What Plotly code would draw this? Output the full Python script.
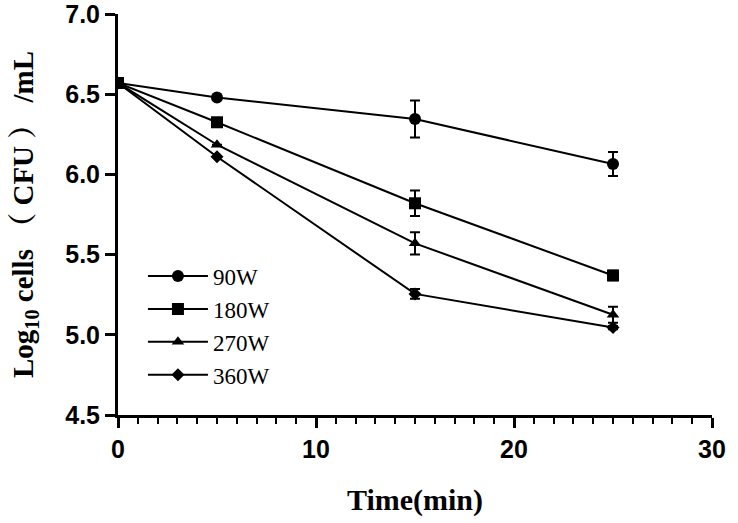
import plotly.graph_objects as go

time = [0, 5, 15, 25]
series_names = ["90W", "180W", "270W", "360W"]
values = {
    "90W":  [6.57, 6.48, 6.345, 6.065],
    "180W": [6.57, 6.325, 5.82, 5.37],
    "270W": [6.57, 6.185, 5.57, 5.125],
    "360W": [6.57, 6.11, 5.255, 5.045],
}
errors = {
    "90W":  [0, 0, 0.115, 0.075],
    "180W": [0, 0, 0.08, 0.03],
    "270W": [0, 0, 0.07, 0.05],
    "360W": [0, 0, 0.03, 0.01],
}
symbols = {"90W": "circle", "180W": "square", "270W": "triangle-up", "360W": "diamond"}
sizes = {"90W": 12, "180W": 12, "270W": 11, "360W": 10}

fig = go.Figure()
for name in series_names:
    fig.add_trace(go.Scatter(
        x=time, y=values[name], name=name, mode="lines+markers",
        line=dict(color="black", width=2),
        marker=dict(symbol=symbols[name], size=sizes[name], color="black"),
        error_y=dict(type="data", array=errors[name], visible=True,
                     color="black", thickness=2, width=5),
    ))

serif = "Liberation Serif, Times New Roman, Noto Serif CJK SC, Noto Sans CJK SC, serif"
sans = "Liberation Sans, Arial, sans-serif"

fig.update_layout(
    width=738, height=523,
    margin=dict(l=118, r=26, t=14, b=108, autoexpand=False),
    paper_bgcolor="white", plot_bgcolor="white",
    showlegend=True,
    legend=dict(x=0.042, y=0.40, xanchor="left", yanchor="top",
                font=dict(family=serif, size=23, color="black"),
                bgcolor="rgba(0,0,0,0)", itemwidth=60, tracegroupgap=0),
    xaxis=dict(
        range=[0, 30], tickvals=[0, 10, 20, 30], automargin=False,
        ticklabeloverflow="allow",
        showline=True, linecolor="black", linewidth=3,
        ticks="outside", ticklen=10, tickwidth=3, tickcolor="black",
        minor=dict(dtick=1, ticks="outside", ticklen=6, tickwidth=2, tickcolor="black"),
        showgrid=False, zeroline=False,
        tickfont=dict(family=sans, size=25, color="black", weight="bold"),
        title=dict(text="<b>Time(min)</b>", font=dict(family=serif, size=30, color="black"), standoff=27),
    ),
    yaxis=dict(
        range=[4.5, 7.0], tickvals=[4.5, 5.0, 5.5, 6.0, 6.5, 7.0], automargin=False,
        ticktext=["4.5", "5.0", "5.5", "6.0", "6.5", "7.0"],
        ticklabeloverflow="allow",
        showline=True, linecolor="black", linewidth=3,
        ticks="outside", ticklen=10, tickwidth=3, tickcolor="black",
        showgrid=False, zeroline=False,
        tickfont=dict(family=sans, size=25, color="black", weight="bold"),
        title=dict(text="<b>Log<sub>10</sub> cells （ CFU ） /mL</b>", font=dict(family=serif, size=29, color="black"), standoff=24),
    ),
)

fig.write_html("out.html", post_script="document.body.style.margin='0';",
               config={"displayModeBar": False})
